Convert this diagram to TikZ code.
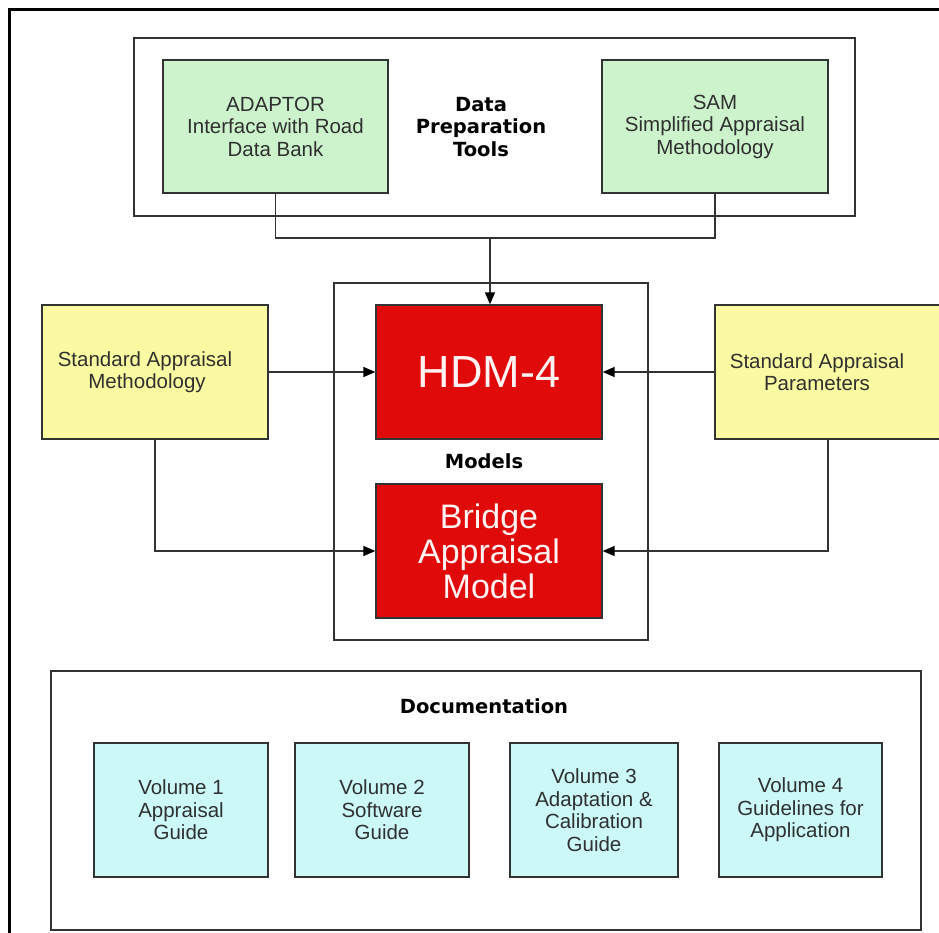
\documentclass[tikz,border=0pt]{standalone}
\usepackage{fontspec}
\setmainfont{Liberation Sans}
\newfontfamily\lblfont{DejaVu Sans}
\usepackage{xcolor}
\usepackage{tikz}
\usetikzlibrary{arrows.meta}
\definecolor{mint}{HTML}{CDF3CD}
\definecolor{lemon}{HTML}{FAFAA2}
\definecolor{hdmred}{HTML}{E00A0A}
\definecolor{aqua}{HTML}{CCF8F8}
\definecolor{edge}{HTML}{333333}
\definecolor{ink}{HTML}{303030}

\begin{document}
\begin{tikzpicture}[x=1pt,y=-1pt,
  panel/.style={draw=edge,line width=1.3pt,inner sep=0pt},
  card/.style={draw=edge,line width=1.3pt,inner sep=0pt,align=center,text=ink,
    font=\fontsize{20.5}{22.5}\selectfont},
  redcard/.style={draw=edge,line width=1.3pt,fill=hdmred,inner sep=0pt,align=center,text=white!95!red},
  heading/.style={font=\lblfont\bfseries\fontsize{19.5}{22.5}\selectfont,align=center,text=black},
  link/.style={draw=edge,line width=1.4pt},
  feed/.style={link,-{Triangle[length=12pt,width=10pt,color=black]}}]
\clip (0,0) rectangle (939,932);
\fill[white] (0,0) rectangle (939,932);
\draw[line width=3pt] (9,9) rectangle (960,960);

% data preparation tools
\node[panel,minimum width=721,minimum height=178] (prep) at (494.5,127) {};
\node[card,fill=mint,minimum width=225,minimum height=133] (adaptor) at (275.5,126.5)
  {ADAPTOR\\Interface with Road\\Data Bank};
\node[card,fill=mint,minimum width=226,minimum height=133] (sam) at (715,126.5)
  {SAM\\Simplified Appraisal\\Methodology};
\node[heading] (preplbl) at (481,127) {Data\\Preparation\\Tools};

% models
\node[panel,minimum width=314,minimum height=357] (models) at (491,461.5) {};
\node[redcard,minimum width=226,minimum height=134,font=\fontsize{45}{50}\selectfont] (hdm) at (489,372) {HDM-4};
\node[redcard,minimum width=226,minimum height=134,font=\fontsize{34}{35}\selectfont] (bridge) at (489,551)
  {Bridge\\Appraisal\\Model};
\node[heading] (modlbl) at (484,461) {Models};

% standard inputs
\node[card,fill=lemon,minimum width=226,minimum height=134] (method) at (155,372)
  {Standard Appraisal\hspace*{20pt}\\Methodology\hspace*{16pt}};
\node[card,fill=lemon,minimum width=226,minimum height=134] (params) at (828,372)
  {Standard Appraisal\hspace*{22pt}\\Parameters\hspace*{22pt}};

% documentation
\node[panel,minimum width=870,minimum height=259] (docs) at (486,800.5) {};
\node[heading] (doclbl) at (484,706) {Documentation};
\node[card,fill=aqua,minimum width=174,minimum height=134] (vol1) at (181,810) {Volume 1\\Appraisal\\Guide};
\node[card,fill=aqua,minimum width=174,minimum height=134] (vol2) at (382,810) {Volume 2\\Software\\Guide};
\node[card,fill=aqua,minimum width=168,minimum height=134] (vol3) at (594,810) {Volume 3\\Adaptation \&\\Calibration\\Guide};
\node[card,fill=aqua,minimum width=163,minimum height=134] (vol4) at (800.5,810) {Volume 4\\Guidelines for\\Application};

% connectors
\coordinate (split) at (490,238);
\draw[link] (adaptor.south) |- (split) -| (sam.south);
\draw[feed] (split) -- (split |- hdm.north);
\draw[feed] (method.east) -- (hdm.west);
\draw[feed] (method.south) |- (bridge.west);
\draw[feed] (params.west) -- (hdm.east);
\draw[feed] (params.south) |- (bridge.east);
\end{tikzpicture}
\end{document}
